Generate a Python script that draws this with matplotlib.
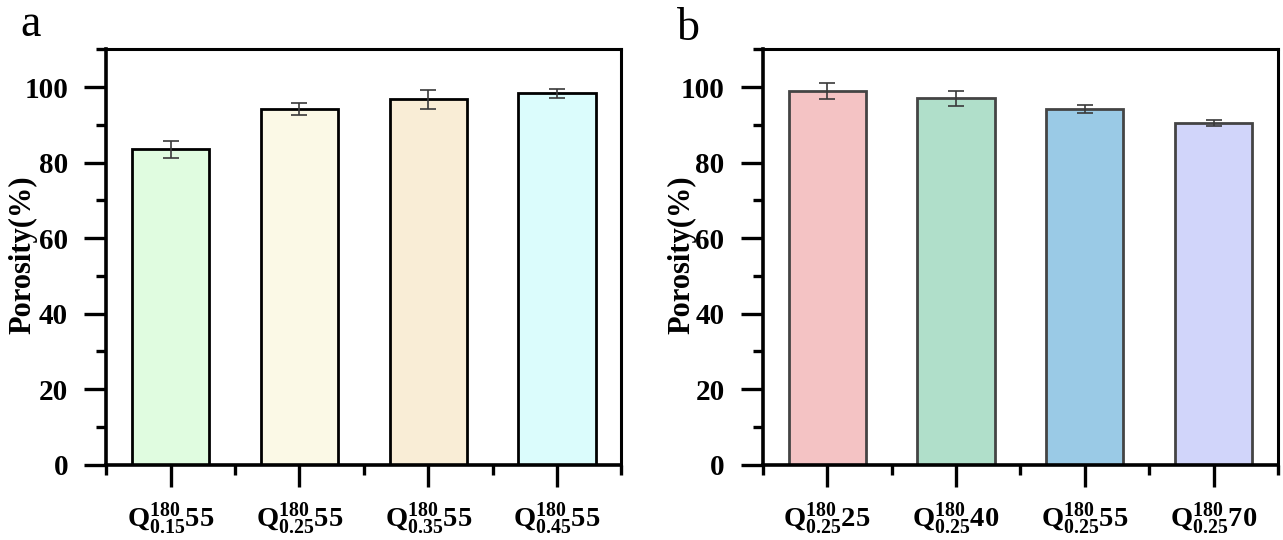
import matplotlib
matplotlib.use("Agg")
import matplotlib.pyplot as plt
from matplotlib.ticker import MultipleLocator, FixedLocator

plt.rcParams['font.family'] = ['Liberation Serif', 'DejaVu Serif']
plt.rcParams['font.weight'] = 'bold'
plt.rcParams['mathtext.fontset'] = 'custom'
plt.rcParams['mathtext.rm'] = 'Liberation Serif:bold'
plt.rcParams['mathtext.bf'] = 'Liberation Serif:bold'
plt.rcParams['mathtext.it'] = 'Liberation Serif:bold'
plt.rcParams['mathtext.default'] = 'bf'

# Panel a data
labels_a = [r'$Q^{180}_{0.15}55$', r'$Q^{180}_{0.25}55$', r'$Q^{180}_{0.35}55$', r'$Q^{180}_{0.45}55$']
values_a = [83.5, 94.2, 96.8, 98.3]
errors_a = [2.3, 1.7, 2.5, 1.3]
colors_a = ['#E0FCE0', '#FBF9E6', '#F9EDD6', '#DBFCFC']

# Panel b data
labels_b = [r'$Q^{180}_{0.25}25$', r'$Q^{180}_{0.25}40$', r'$Q^{180}_{0.25}55$', r'$Q^{180}_{0.25}70$']
values_b = [99.0, 97.0, 94.2, 90.5]
errors_b = [2.2, 2.0, 1.0, 0.9]
colors_b = ['#F4C3C4', '#B0DFCA', '#9ACAE6', '#D1D5FA']

fig = plt.figure(figsize=(12.83, 5.4), dpi=100)
ax_a = fig.add_axes([0.0828, 0.1394, 0.4016, 0.7693])
ax_b = fig.add_axes([0.5945, 0.1394, 0.4016, 0.7693])


def draw(ax, labels, values, errors, colors, edge):
    x = list(range(len(values)))
    ax.bar(x, values, width=0.6, color=colors, edgecolor=edge, linewidth=2.0, zorder=2)
    ax.errorbar(x, values, yerr=errors, fmt='none', ecolor='#3a3a3a', elinewidth=1.2,
                capsize=5.5, capthick=1.2, zorder=3)
    ax.set_xlim(-0.5, len(values) - 0.5)
    ax.set_ylim(0, 110)
    ax.yaxis.set_major_locator(FixedLocator([0, 20, 40, 60, 80, 100]))
    ax.yaxis.set_minor_locator(MultipleLocator(10))
    ax.set_xticks(x)
    ax.set_xticklabels(labels, fontsize=20.5)
    ax.xaxis.set_minor_locator(FixedLocator([i - 0.5 for i in range(len(values) + 1)]))
    ax.tick_params(axis='both', which='major', length=15.5, width=2.4, direction='out')
    ax.tick_params(axis='y', which='major', labelsize=21, pad=12)
    ax.tick_params(axis='x', which='major', labelsize=20.5, pad=11)
    ax.tick_params(axis='both', which='minor', length=7.5, width=2.4, direction='out')
    ax.tick_params(top=False, right=False, which='both')
    for lab in ax.get_yticklabels():
        lab.set_fontweight('bold')
    for s in ['left', 'bottom']:
        ax.spines[s].set_linewidth(2.6)
    for s in ['top', 'right']:
        ax.spines[s].set_linewidth(2.2)


draw(ax_a, labels_a, values_a, errors_a, colors_a, 'black')
draw(ax_b, labels_b, values_b, errors_b, colors_b, '#444444')

fig.text(23 / 1283, 1 - 255 / 540, 'Porosity(%)', rotation=90, ha='center', va='center',
         fontsize=22, fontweight='bold')
fig.text(682 / 1283, 1 - 255 / 540, 'Porosity(%)', rotation=90, ha='center', va='center',
         fontsize=22, fontweight='bold')

fig.text(20 / 1283, 1 - 36 / 540, 'a', fontsize=33, fontweight='normal', va='baseline', ha='left')
fig.text(677 / 1283, 1 - 40 / 540, 'b', fontsize=33, fontweight='normal', va='baseline', ha='left')

fig.savefig('out.png', dpi=100)
